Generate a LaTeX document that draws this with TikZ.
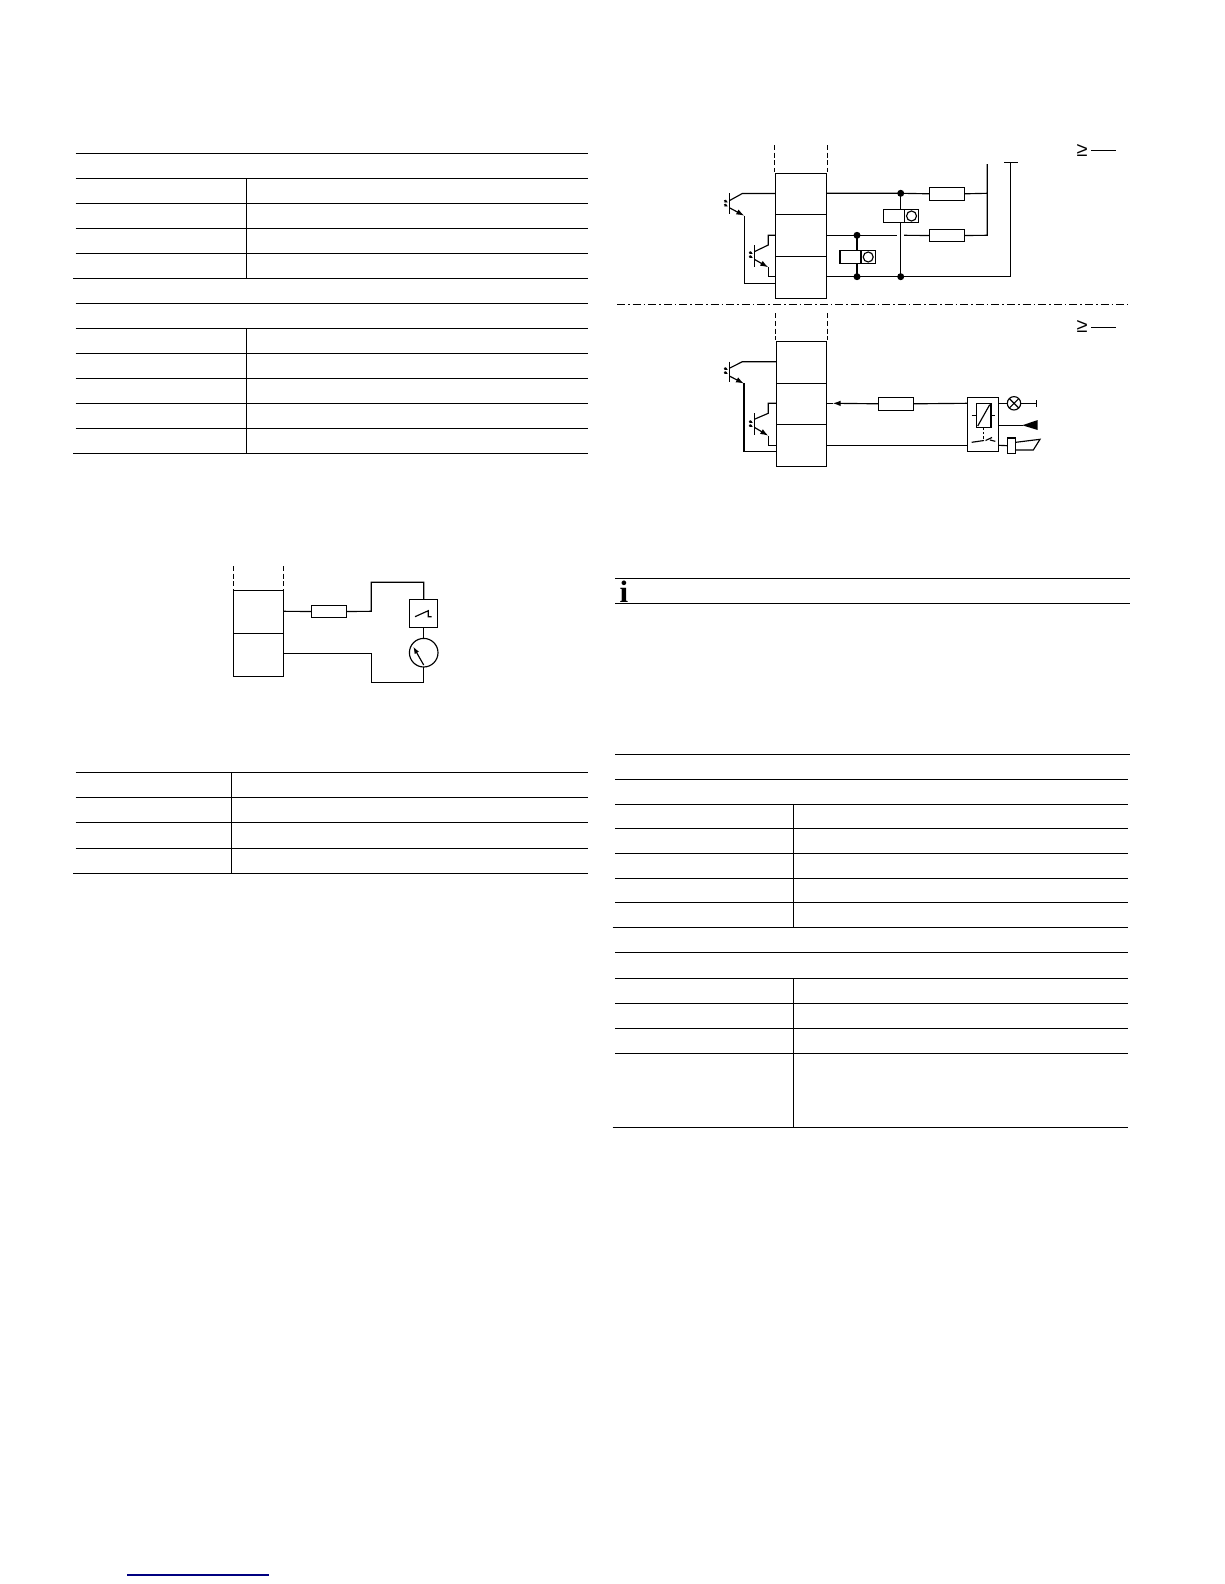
\documentclass[tikz,border=0pt]{standalone}
\usepackage{fontspec}
\setmainfont{Liberation Sans}
\newfontfamily\iconserif{Liberation Serif}
\usetikzlibrary{arrows.meta}
\tikzset{
  x=1pt,y=-1pt,
  rulea/.style={line width=1pt,black},
  wire/.style={line width=1.15pt,black,line join=miter},
  termbox/.style={draw,line width=1.15pt,rectangle,inner sep=0pt,outer sep=0pt,fill=white},
  res/.style={termbox,minimum width=35.4pt,minimum height=12.8pt},
  relaycoil/.style={termbox,minimum width=21pt,minimum height=13.4pt},
  relaycirc/.style={termbox,minimum width=14.4pt,minimum height=13.4pt},
  ring/.style={draw,line width=1.15pt,circle,inner sep=0pt,outer sep=0pt,fill=white},
  dot/.style={circle,fill=black,inner sep=0pt,outer sep=0pt,minimum size=7pt},
  dashlim/.style={line width=1pt,dash pattern=on 5pt off 2.6pt},
  ray/.style={line width=1pt,-{Latex[length=3.4pt,width=3.6pt]}},
  emit/.style={wire,-{Latex[length=8pt,width=5.6pt]}},
  txt/.style={inner sep=0pt,outer sep=0pt}
}
\newcommand{\rows}[3]{\foreach \yy in {#3} \draw[rulea] (#1,\yy) -- (#2,\yy);}
\begin{document}
\begin{tikzpicture}
\useasboundingbox[fill=white] (0,0) rectangle (1224,1584);

% ---------- left upper table
\rows{75.5}{588}{153.7,178.6,203.5,228.5,253.5,303.5,328.5,353.5,378.5,403.5,428.5}
\rows{73}{588}{278.5,453.7}
\draw[rulea] (246.5,178.6) -- (246.5,278.5);
\draw[rulea] (246.5,328.5) -- (246.5,453.7);

% ---------- left lower table
\rows{75.5}{588}{772.6,797.6,822.7,848.4}
\rows{73}{588}{873.6}
\draw[rulea] (231.5,772.6) -- (231.5,873.6);

% ---------- right table
\draw[rulea] (615,754.4) -- (1130,754.4);
\rows{615}{1127.5}{779.2,804.2,828.5,853.5,878.2,902.5,952.5,978.2,1003.2,1028.5,1053.5}
\rows{612.5}{1127.5}{927.5,1127.5}
\draw[rulea] (793.6,804.2) -- (793.6,927.5);
\draw[rulea] (793.6,978.2) -- (793.6,1127.5);

% ---------- note
\draw[rulea] (615,578.5) -- (1130,578.5);
\draw[rulea] (615,603.5) -- (1130,603.5);
\node[txt,anchor=center] (noteicon) at (624,591.5) {\iconserif\bfseries\fontsize{31}{31}\selectfont i};

% ---------- footer link rule
\draw[line width=1.1pt,color={rgb,255:red,0;green,0;blue,128}] (127.3,1575) -- (268.7,1575);

% ---------- separator
\draw[line width=1.2pt,dash pattern=on 8pt off 3pt on 1.6pt off 3pt] (617,304.5) -- (1128,304.5);

% ---------- GE labels
\node[txt] (gea) at (1082,150.5) {\fontsize{20}{20}\selectfont ≥};
\draw[rulea] (1091,150) -- (1116,150);
\node[txt] (geb) at (1082,326.5) {\fontsize{20}{20}\selectfont ≥};
\draw[rulea] (1091,327.3) -- (1116,327.3);

% ========== upper circuit
\node[termbox,minimum width=51.4pt,minimum height=41.4pt] (ua) at (801,194) {};
\node[termbox,minimum width=51.4pt,minimum height=42pt] (ub) at (801,235.7) {};
\node[termbox,minimum width=51.4pt,minimum height=41.6pt] (uc) at (801,277.5) {};
\draw[dashlim] (774.5,145) -- (774.5,172);
\draw[dashlim] (827.3,145) -- (827.3,172);

\coordinate (jt) at (900.7,193.3);
\coordinate (jb) at (900.7,276.7);
\coordinate (kt) at (857,235.3);
\coordinate (kb) at (857,276.7);
\coordinate (bus) at (987.3,164);
\coordinate (gnd) at (1010.3,162.7);

\node[res] (r1) at (947,193.8) {};
\node[res] (r2) at (947,235.5) {};
\draw[wire] (826.7,193.3) -- (jt) -- (r1.west);
\draw[wire] (r1.east) -- (987.3,193.3);
\draw[wire] (826.7,235.3) -- (kt) -- (896.7,235.3);
\draw[wire] (904,235.3) -- (r2.west);
\draw[wire] (r2.east) -- (987.3,235.3) -- (bus);
\draw[wire] (826.7,276.7) -- (1010.3,276.7) -- (gnd);
\draw[wire] (1004.3,162.7) -- (1017.7,162.7);
\draw[wire] (jt) -- (jb);
\draw[wire] (kt) -- (kb);
\node[relaycoil] (rca) at (893.8,216) {};
\node[relaycirc] (rcb) at (911.5,216) {};
\node[ring,minimum size=10pt] at (rcb) {};
\node[relaycoil] (rda) at (850.5,257) {};
\node[relaycirc] (rdb) at (868.2,257) {};
\node[ring,minimum size=10pt] at (rdb) {};
\node[dot] at (jt) {}; \node[dot] at (jb) {};
\node[dot] at (kt) {}; \node[dot] at (kb) {};

% opto 1 upper
\draw[wire] (729.3,193.3) -- (729.3,214.3);
\draw[wire] (729.3,200.7) -- (742.3,193.5) -- (775.3,193.5);
\draw[emit] (729.3,207.7) -- (744.3,215.7);
\draw[wire] (744.3,215.7) -- (744.3,283.3) -- (775.3,283.3);
\draw[ray] (724,200.5) -- (728,202.5);
\draw[ray] (724,204.5) -- (728,206.5);
% opto 2 upper
\draw[wire] (754.3,245) -- (754.3,266.7);
\draw[wire] (754.3,251.7) -- (768.3,245) -- (768.3,235.3) -- (775.3,235.3);
\draw[emit] (754.3,259.3) -- (768.3,267.3);
\draw[wire] (768.3,267.3) -- (768.3,276.7) -- (775.3,276.7);
\draw[ray] (749,252) -- (753,254);
\draw[ray] (749,256) -- (753,258);

% ========== lower circuit
\node[termbox,minimum width=50.4pt,minimum height=42pt] (la) at (801.5,362.3) {};
\node[termbox,minimum width=50.4pt,minimum height=41pt] (lb) at (801.5,403.8) {};
\node[termbox,minimum width=50.4pt,minimum height=42pt] (lc) at (801.5,445.3) {};
\draw[dashlim] (775.5,313.3) -- (775.5,340);
\draw[dashlim] (827.3,313.3) -- (827.3,340);

\node[res] (r3) at (896,403.8) {};
\node[termbox,minimum width=31.4pt,minimum height=54.4pt] (dev) at (983,424.5) {};
\draw[wire,{Latex[length=8pt,width=5.6pt]}-] (832.7,403.3) -- (r3.west);
\draw[wire] (826.7,403.3) -- (833,403.3);
\draw[wire] (r3.east) -- (967.3,403.3);
\draw[wire] (826.7,445.3) -- (967.3,445.3);

\node[termbox,minimum width=14.7pt,minimum height=24pt] (coil) at (983.7,415.3) {};
\draw[wire] (977.7,426) -- (989.7,404.7);
\draw[wire] (971.7,415.3) -- (coil.west);
\draw[wire] (coil.east) -- (995.3,415.3);
\draw[line width=1pt,dash pattern=on 2.5pt off 2pt] (983.3,427.3) -- (983.3,439);
\draw[wire] (971.7,442.3) -- (984,440.5);
\draw[wire] (985.5,440.5) -- (992,437.5);
\draw[wire] (990,440) -- (995.3,441.3);

\node[ring,minimum size=13.4pt] (lamp) at (1014,403.3) {};
\draw[wire] (998.7,403.3) -- (lamp.west);
\draw[wire] (lamp.45) -- (lamp.225);
\draw[wire] (lamp.135) -- (lamp.315);
\draw[wire] (lamp.east) -- (1036.7,403.3);
\draw[wire] (1036.7,400) -- (1036.7,406.7);

\draw[wire] (998.7,425.3) -- (1023,425.3);
\fill (1022.3,425.3) -- (1037.7,420) -- (1037.7,430) -- cycle;

\node[termbox,minimum width=8.4pt,minimum height=15.3pt] (horn) at (1011.5,445.7) {};
\draw[wire] (998.7,445.3) -- (horn.west);
\draw[wire] (1015.7,442.3) -- (1040,439.3) -- (1033.3,450) -- (1015.7,450);

% opto 1 lower
\draw[wire] (729.3,361.7) -- (729.3,382.3);
\draw[wire] (729.3,368.3) -- (742.3,361.7) -- (776.3,361.7);
\draw[emit] (729.3,376) -- (744,383.5);
\draw[wire] (744,383.3) -- (744,451.3) -- (776.3,451.3);
\draw[ray] (724,368) -- (728,370);
\draw[ray] (724,372) -- (728,374);
% opto 2 lower
\draw[wire] (754.3,413.3) -- (754.3,435);
\draw[wire] (754.3,419.3) -- (768.3,413.3) -- (768.3,403.3) -- (776.3,403.3);
\draw[emit] (754.3,427.3) -- (768.3,435.7);
\draw[wire] (768.3,435.7) -- (768.3,445.3) -- (776.3,445.3);
\draw[ray] (749,421) -- (753,423);
\draw[ray] (749,425) -- (753,427);

% ========== left circuit
\node[termbox,minimum width=50pt,minimum height=43pt] (ma) at (258.3,611.8) {};
\node[termbox,minimum width=50pt,minimum height=43.4pt] (mb) at (258.3,655) {};
\draw[dashlim] (233.3,566) -- (233.3,590);
\draw[dashlim] (283.3,566) -- (283.3,590);

\node[res] (r4) at (329,611.5) {};
\node[termbox,minimum width=28.4pt,minimum height=28.4pt] (limit) at (423.5,613.5) {};
\node[ring,minimum size=28.6pt] (meter) at (423.7,652.7) {};
\draw[wire] (283.3,611.3) -- (r4.west);
\draw[wire] (r4.east) -- (371.3,611.3) -- (371.3,582.3) -- (423.7,582.3) -- (limit.north -| 423.7,0);
\draw[wire] (423.7,627.7) -- (meter.north);
\draw[wire] (283.3,653.3) -- (371.3,653.3) -- (371.3,682.3) -- (423.7,682.3) -- (meter.south);
\draw[wire] (415,616.7) -- (428.3,610.7) -- (428.3,616.7) -- (431.7,616.7);
\draw[wire,-{Latex[length=7pt,width=5pt]}] (423.7,665) -- (413.3,646.7);
\end{tikzpicture}
\end{document}
